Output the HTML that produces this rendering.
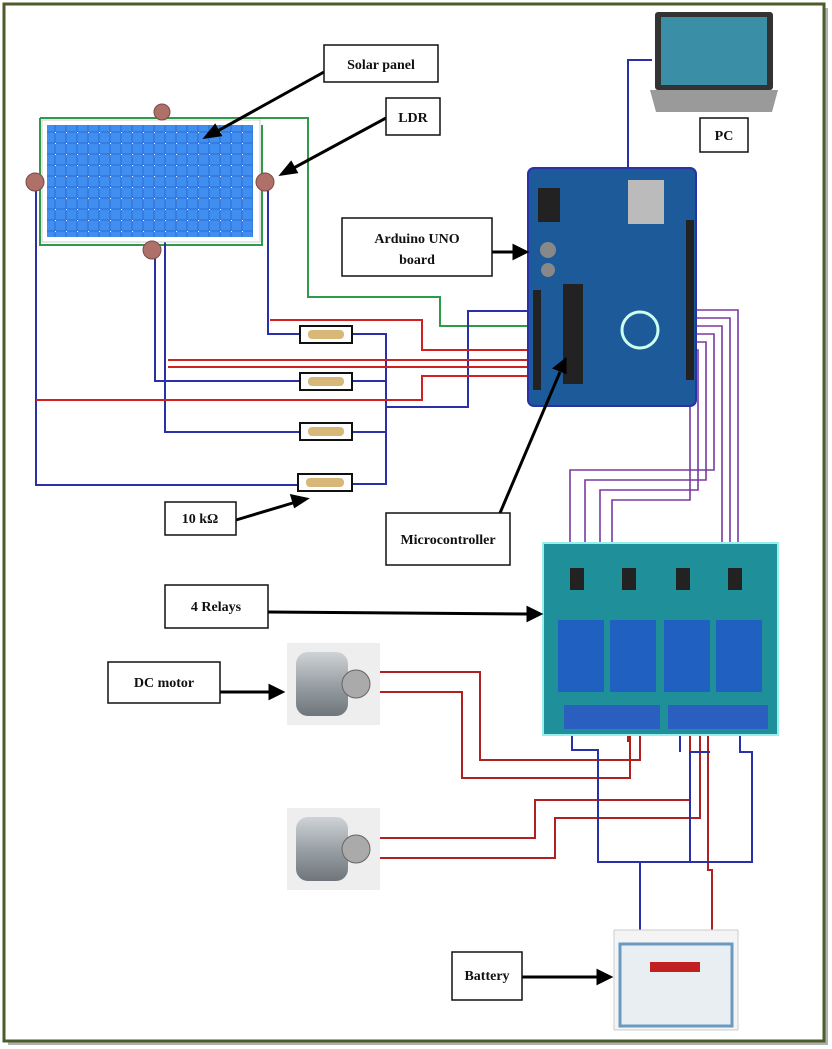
<!DOCTYPE html>
<html><head><meta charset="utf-8"><style>
html,body{margin:0;padding:0;background:#fff;}
svg{display:block;font-family:"Liberation Serif",serif;}
</style></head><body>
<svg width="832" height="1049" viewBox="0 0 832 1049" xmlns="http://www.w3.org/2000/svg">
<defs>
<pattern id="cells" width="11" height="11" patternUnits="userSpaceOnUse">
<rect width="11" height="11" fill="#2a6fd6"/><rect x="0.5" y="0.5" width="10" height="10" fill="#3f8ef0"/><circle cx="0" cy="0" r="1.2" fill="#fff"/>
</pattern>
<linearGradient id="metal" x1="0" y1="0" x2="0" y2="1"><stop offset="0" stop-color="#cfd3d6"/><stop offset="0.5" stop-color="#9aa1a6"/><stop offset="1" stop-color="#6f767b"/></linearGradient>
</defs>
<rect x="0" y="0" width="832" height="1049" fill="#fff"/>
<rect x="8" y="8" width="820" height="1037" fill="#b0b0b0"/>
<rect x="4" y="4" width="820" height="1037" fill="#fff" stroke="#4b5d2a" stroke-width="3"/>

<!-- wires -->
<g fill="none" stroke-width="2">
<path d="M40 118 H308 V297 H440 V326 H530" stroke="#2e9a4a"/>
<path d="M40 118 V245 H262 V125" stroke="#2e9a4a"/>
<path d="M268 182 V334 H300 M352 334 H386 V484 H352 M386 407 H468 V311 H530" stroke="#2b2fa8"/>
<path d="M155 255 V381 H300 M352 381 H386" stroke="#2b2fa8"/>
<path d="M165 200 V432 H300 M352 432 H386" stroke="#2b2fa8"/>
<path d="M36 190 V485 H300" stroke="#2b2fa8"/>
<path d="M270 320 H422 V350 H530 M168 360 H530 M168 367 H530 M36 400 H422 V376 H530" stroke="#d02020"/>
<path d="M628 168 V60 H652" stroke="#2b2fa8"/>
<path d="M690 310 H738 V545 M690 318 H730 V545 M690 326 H722 V545 M690 334 H714 V470 H570 V545 M690 342 H706 V480 H585 V545 M690 350 H698 V490 H600 V545 M690 358 H690 V500 H612 V545" stroke="#7a3aa0" stroke-width="1.6"/>
<path d="M380 672 H480 V760 H640 V732 M380 692 H462 V778 H630 V732 M380 838 H535 V800 H690 V732 M380 858 H555 V818 H700 V732 M628 732 V742 M708 732 V870 H712 V930" stroke="#b02020"/>
<path d="M572 732 V750 H598 V862 H640 V930 M640 862 H690 V752 H710 M680 732 V752 M740 732 V752 H752 V862 H690" stroke="#2b2fa8"/>
</g>

<!-- solar panel -->
<rect x="42" y="120" width="218" height="122" fill="#fff" stroke="#ccc"/>
<rect x="47" y="125" width="206" height="112" fill="url(#cells)"/>
<g fill="#b0706a" stroke="#7a4a44"><circle cx="162" cy="112" r="8"/><circle cx="35" cy="182" r="9"/><circle cx="265" cy="182" r="9"/><circle cx="152" cy="250" r="9"/></g>

<!-- resistors -->
<g>
<rect x="300" y="326" width="52" height="17" fill="#fff" stroke="#111" stroke-width="2"/><rect x="308" y="330" width="36" height="9" rx="4" fill="#d8b878"/>
<rect x="300" y="373" width="52" height="17" fill="#fff" stroke="#111" stroke-width="2"/><rect x="308" y="377" width="36" height="9" rx="4" fill="#d8b878"/>
<rect x="300" y="423" width="52" height="17" fill="#fff" stroke="#111" stroke-width="2"/><rect x="308" y="427" width="36" height="9" rx="4" fill="#d8b878"/>
<rect x="298" y="474" width="54" height="17" fill="#fff" stroke="#111" stroke-width="2"/><rect x="306" y="478" width="38" height="9" rx="4" fill="#d8b878"/>
</g>

<!-- laptop -->
<rect x="655" y="12" width="118" height="78" rx="3" fill="#333"/>
<rect x="661" y="17" width="106" height="68" fill="#3a8fa6"/>
<path d="M650 90 H778 L772 112 H656 Z" fill="#9a9a9a"/>

<!-- arduino -->
<rect x="528" y="168" width="168" height="238" rx="6" fill="#1d5a9a" stroke="#2b2fa8" stroke-width="2"/>
<rect x="538" y="188" width="22" height="34" fill="#222"/>
<rect x="628" y="180" width="36" height="44" fill="#bbb"/>
<rect x="563" y="284" width="20" height="100" fill="#222"/>
<rect x="533" y="290" width="8" height="100" fill="#222"/>
<rect x="686" y="220" width="8" height="160" fill="#222"/>
<circle cx="640" cy="330" r="18" fill="none" stroke="#cfe" stroke-width="3"/>
<circle cx="548" cy="250" r="8" fill="#888"/><circle cx="548" cy="270" r="7" fill="#888"/>

<!-- relay board -->
<rect x="543" y="543" width="235" height="192" fill="#1f8f9a" stroke="#9ee" stroke-width="2"/>
<g fill="#2060c0"><rect x="558" y="620" width="46" height="72"/><rect x="610" y="620" width="46" height="72"/><rect x="664" y="620" width="46" height="72"/><rect x="716" y="620" width="46" height="72"/></g>
<g fill="#222"><rect x="570" y="568" width="14" height="22"/><rect x="622" y="568" width="14" height="22"/><rect x="676" y="568" width="14" height="22"/><rect x="728" y="568" width="14" height="22"/></g>
<rect x="564" y="705" width="96" height="24" fill="#2a5fc0"/><rect x="668" y="705" width="100" height="24" fill="#2a5fc0"/>

<!-- motors -->
<rect x="287" y="643" width="93" height="82" fill="#eee"/>
<rect x="296" y="652" width="52" height="64" rx="12" fill="url(#metal)"/><circle cx="356" cy="684" r="14" fill="#aaa" stroke="#666"/>
<rect x="287" y="808" width="93" height="82" fill="#eee"/>
<rect x="296" y="817" width="52" height="64" rx="12" fill="url(#metal)"/><circle cx="356" cy="849" r="14" fill="#aaa" stroke="#666"/>

<!-- battery -->
<rect x="614" y="930" width="124" height="100" fill="#f4f4f4" stroke="#ccc"/>
<rect x="620" y="944" width="112" height="82" fill="#e9eef2" stroke="#6a9ac0" stroke-width="3"/>
<rect x="650" y="962" width="50" height="10" fill="#c02020"/>

<!-- arrows -->
<g stroke="#000" stroke-width="3" fill="#000">
<path d="M324 72 L214 133" /><path d="M206 137 l14 -2 -5 -9z"/>
<path d="M386 118 L290 170"/><path d="M282 174 l14 -2 -5 -9z"/>
<path d="M492 252 L516 252"/><path d="M526 252 l-12 -6 v12z"/>
<path d="M500 513 L560 372"/><path d="M565 360 l-10 8 10 4z"/>
<path d="M236 520 L296 502"/><path d="M306 499 l-14 -3 3 10z"/>
<path d="M268 612 L528 614"/><path d="M540 614 l-12 -6 v12z"/>
<path d="M220 692 L270 692"/><path d="M282 692 l-12 -6 v12z"/>
<path d="M522 977 L598 977"/><path d="M610 977 l-12 -6 v12z"/>
</g>

<!-- labels -->
<g fill="#fff" stroke="#111" stroke-width="1.5">
<rect x="324" y="45" width="114" height="37"/>
<rect x="386" y="98" width="54" height="37"/>
<rect x="700" y="118" width="48" height="34"/>
<rect x="342" y="218" width="150" height="58"/>
<rect x="165" y="502" width="71" height="33"/>
<rect x="386" y="513" width="124" height="52"/>
<rect x="165" y="585" width="103" height="43"/>
<rect x="108" y="662" width="112" height="41"/>
<rect x="452" y="952" width="70" height="48"/>
</g>
<g font-size="14" font-weight="bold" fill="#111" text-anchor="middle">
<text x="381" y="69">Solar panel</text>
<text x="413" y="122">LDR</text>
<text x="724" y="140">PC</text>
<text x="417" y="243">Arduino UNO</text>
<text x="417" y="264">board</text>
<text x="200" y="523">10 kΩ</text>
<text x="448" y="544">Microcontroller</text>
<text x="216" y="611">4 Relays</text>
<text x="164" y="687">DC motor</text>
<text x="487" y="980">Battery</text>
</g>
</svg>
</body></html>
